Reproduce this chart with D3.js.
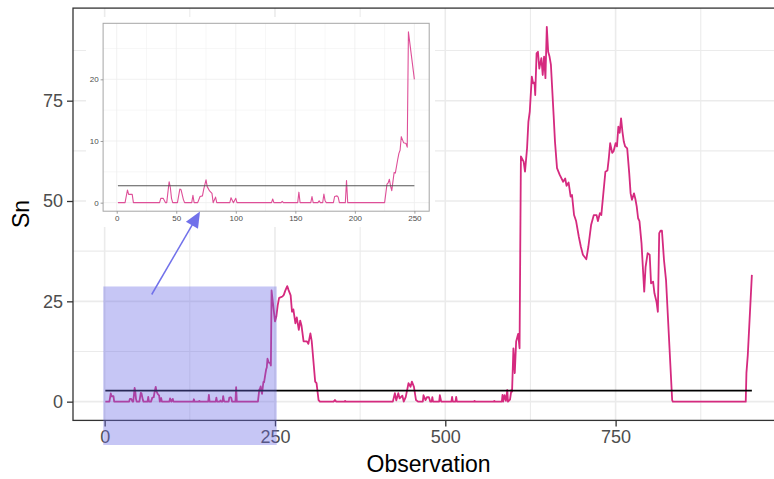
<!DOCTYPE html>
<html>
<head>
<meta charset="utf-8">
<script src="https://cdn.jsdelivr.net/npm/d3@7"></script>
<style>
  html, body { margin: 0; padding: 0; background: #ffffff; }
  svg { display: block; font-family: "Liberation Sans", Arial, Helvetica, sans-serif; }
</style>
</head>
<body>
<svg id="chart" width="774" height="479"></svg>
<script>
// ---------------- data ----------------
const obs = [
  1,7,9,10,13,14,36,37,39,41,42,44,45,46,47,51,53,54,56,57,63,64,65,68,70,72,73,75,76,78,80,81,83,84,
  95,96,98,100,101,130,131,132,138,139,140,152,153,154,163,164,165,169,170,171,173,174,175,176,
  182,183,185,186,187,192,193,194,225,227,228,229,230,231,233,234,236,237,238,239,241,243,244,245,250,
  252,254,256,258,261,263,265,268,270,273,275,277,280,282,285,287,289,292,297,299,302,304,309,311,314,316,
  336,338,340,352,353,354,423,426,428,431,433,437,439,442,446,449,451,454,457,460,467,468,471,473,476,478,
  480,481,482,491,492,494,509,510,511,515,516,517,542,543,544,571,572,573,583,584,585,587,589,591,592,595,
  597,598,600,602,604,607,609,611,615,617,620,622,624,627,629,631,632,634,636,638,641,643,645,647,649,651,
  653,655,659,661,664,668,673,676,678,681,684,686,689,692,696,699,702,707,710,714,718,722,724,727,729,732,
  735,738,740,742,745,747,750,752,754,756,758,760,762,764,767,770,772,774,777,779,781,783,785,788,792,794,
  797,800,802,805,807,810,812,814,816,818,821,824,833,834,941,942,944,950
];
const sn = [
  0,0,2.05,1.35,1.35,0,0,0.7,0.7,0,0,3.4,2.5,0.7,0,0,2.2,2.1,0.5,0,0,1.2,0,0,1.0,1.1,2.1,3.7,2.6,1.9,1.5,0,0.9,0,
  0,0.8,0,0.7,0,0,0.6,0,0,0.2,0,0,1.7,0,0,1.0,0,0,0.3,0,0,1.4,0.3,0,
  0,1.0,1.1,0.9,0,0,3.6,0,0,3.0,3.2,3.8,2.7,1.95,4.9,4.8,7.0,8.0,8.5,10.7,9.7,9.6,9.0,27.7,20.0,
  21.2,24,25.8,26,26.2,26.6,27.6,28.8,27.8,26.5,22.4,23,19.5,21,17.9,20.2,18.9,15,15,14.4,17,15,5,4.6,0.4,0,
  0,0.4,0,0,0.2,0,0,2.1,0.3,2.1,0.8,1.5,0,1.2,4.6,3.7,5.0,3.7,0.4,0,0,1.6,0.4,1.1,1.1,0,
  0,1.1,0,0,1.6,0,0,1.2,0,0,1.2,0,0,0.2,0,0,0.2,0,0,1.7,0,1.6,0.2,2.9,0,0.5,
  2.9,2.5,13.3,7.1,15,16.9,13.3,61.1,59.8,57.3,63.1,69.8,72.3,81,79.3,79.5,76.4,86.8,87.2,83,85.6,81.4,86,80.6,93.4,87.2,
  86,84,71.4,64.8,58.2,56.5,54.8,55.6,53.8,54.6,51.1,51.5,46.5,45,41.1,38.6,36.6,35.5,38.6,44,46.5,46.5,45,47,46.5,51.9,
  57.3,57.6,60.6,64.4,62,62.4,64.4,63.6,68.5,67,70.6,67.3,64.8,63.6,63.1,56.9,51.9,50.3,51.9,50.5,48.6,45.7,45,39.5,27.4,33.6,
  37,36.6,29.5,29.9,27,24.9,22.4,42,42.6,42.6,35.3,30.3,0.4,0,0,7.1,11.6,31.6
];
const threshold = 2.75;
const insetLimit = 250;

const mainXTicks = [0, 250, 500, 750];
const mainYTicks = [0, 25, 50, 75];
const insetXTicks = [0, 50, 100, 150, 200, 250];
const insetYTicks = [0, 10, 20];

const xTitle = "Observation";
const yTitle = "Sn";

// ---------------- helpers ----------------
const svg = d3.select("#chart");
const series = obs.map((o, i) => ({ o: o, v: sn[i] }));
const insetSeries = series.filter(d => d.o <= insetLimit);

function padded(ext) {
  const p = (ext[1] - ext[0]) * 0.05;
  return [ext[0] - p, ext[1] + p];
}
function minorOf(ticks, dom) {
  const step = ticks[1] - ticks[0];
  const out = [];
  for (let t = ticks[0] - step / 2; t <= dom[1]; t += step) if (t >= dom[0]) out.push(t);
  return out;
}

function drawPanel(g, cfg) {
  const x = cfg.x, y = cfg.y;
  const [x0, x1] = x.range(), [y0, y1] = y.range();
  if (cfg.bg) {
    g.append("rect").attr("x", cfg.bg[0]).attr("y", cfg.bg[1])
      .attr("width", cfg.bg[2]).attr("height", cfg.bg[3]).attr("fill", "#ffffff");
  }
  const grid = g.append("g");
  minorOf(cfg.yTicks, y.domain()).forEach(t => grid.append("line")
    .attr("x1", x0).attr("x2", x1).attr("y1", y(t)).attr("y2", y(t))
    .attr("stroke", cfg.gridCol).attr("stroke-width", cfg.minorW));
  minorOf(cfg.xTicks, x.domain()).forEach(t => grid.append("line")
    .attr("y1", y0).attr("y2", y1).attr("x1", x(t)).attr("x2", x(t))
    .attr("stroke", cfg.gridCol).attr("stroke-width", cfg.minorW));
  cfg.yTicks.forEach(t => grid.append("line")
    .attr("x1", x0).attr("x2", x1).attr("y1", y(t)).attr("y2", y(t))
    .attr("stroke", cfg.gridCol).attr("stroke-width", cfg.majorW));
  cfg.xTicks.forEach(t => grid.append("line")
    .attr("y1", y0).attr("y2", y1).attr("x1", x(t)).attr("x2", x(t))
    .attr("stroke", cfg.gridCol).attr("stroke-width", cfg.majorW));

  const line = d3.line().x(d => x(d.o)).y(d => y(d.v));
  g.append("path").datum(cfg.data).attr("d", line)
    .attr("fill", "none").attr("stroke", cfg.lineCol)
    .attr("stroke-width", cfg.lineW).attr("stroke-linejoin", "round");
  const ext = d3.extent(cfg.data, d => d.o);
  g.append("line").attr("x1", x(ext[0])).attr("x2", x(ext[1]))
    .attr("y1", y(threshold)).attr("y2", y(threshold))
    .attr("stroke", cfg.thrCol).attr("stroke-width", cfg.thrW);

  g.append("rect").attr("x", x0).attr("y", y1).attr("width", x1 - x0).attr("height", y0 - y1)
    .attr("fill", "none").attr("stroke", cfg.borderCol).attr("stroke-width", cfg.borderW);

  const ax = g.append("g").attr("transform", `translate(0,${y0})`)
    .call(d3.axisBottom(x).tickValues(cfg.xTicks).tickSize(cfg.tickLen).tickPadding(cfg.tickPad).tickFormat(d3.format("d")));
  const ay = g.append("g").attr("transform", `translate(${x0},0)`)
    .call(d3.axisLeft(y).tickValues(cfg.yTicks).tickSize(cfg.tickLen).tickPadding(cfg.tickPad).tickFormat(d3.format("d")));
  [ax, ay].forEach(a => {
    a.select(".domain").remove();
    a.selectAll(".tick line").attr("stroke", cfg.tickCol).attr("stroke-width", cfg.tickW);
    a.selectAll(".tick text").attr("fill", "#4d4d4d").attr("font-size", cfg.fontSize)
      .attr("font-family", "Liberation Sans, Arial, sans-serif");
  });
}

// ---------------- main panel ----------------
const xMain = d3.scaleLinear().domain(padded(d3.extent(obs))).range([73, 784.2]);
const yMain = d3.scaleLinear().domain(padded([0, d3.max(sn)])).range([420.4, 8.1]);

const gMain = svg.append("g");
drawPanel(gMain, {
  x: xMain, y: yMain, data: series, xTicks: mainXTicks, yTicks: mainYTicks,
  gridCol: "#ebebeb", majorW: 1.6, minorW: 1.1,
  lineCol: "#d52a7f", lineW: 1.8, thrCol: "#000000", thrW: 1.8,
  borderCol: "#333333", borderW: 1.3,
  tickLen: 6, tickPad: 4, tickCol: "#333333", tickW: 1.3, fontSize: "18px"
});

svg.append("text").attr("x", (73 + 784.2) / 2).attr("y", 472)
  .attr("text-anchor", "middle").attr("font-size", "23px").attr("fill", "#000")
  .text(xTitle);
svg.append("text").attr("transform", "translate(29,214) rotate(-90)")
  .attr("text-anchor", "middle").attr("font-size", "23px").attr("fill", "#000")
  .text(yTitle);

// ---------------- inset panel ----------------
const xIn = d3.scaleLinear().domain(padded(d3.extent(insetSeries, d => d.o))).range([103.1, 429.2]);
const yIn = d3.scaleLinear().domain(padded([0, d3.max(insetSeries, d => d.v)])).range([211.2, 23.3]);

const gIn = svg.append("g");
drawPanel(gIn, {
  x: xIn, y: yIn, data: insetSeries, xTicks: insetXTicks, yTicks: insetYTicks,
  bg: [86, 17, 349, 210],
  gridCol: "#eeeeee", majorW: 0.8, minorW: 0.5,
  lineCol: "#de4f98", lineW: 1.1, thrCol: "#555555", thrW: 1.1,
  borderCol: "#a6a6a6", borderW: 1,
  tickLen: 2.5, tickPad: 2, tickCol: "#888888", tickW: 0.8, fontSize: "8px"
});

// ---------------- highlight & arrow ----------------
svg.append("rect")
  .attr("x", xMain(-2)).attr("y", yMain(28.7))
  .attr("width", xMain(252.5) - xMain(-2)).attr("height", yMain(-10.8) - yMain(28.7))
  .attr("fill", "#6a6ae6").attr("fill-opacity", 0.38);

const a0 = [151.7, 294.5], a1 = [200, 211.5];
const dx = a1[0] - a0[0], dy = a1[1] - a0[1], L = Math.hypot(dx, dy);
const ux = dx / L, uy = dy / L, hl = 16, hw = 7;
const bx = a1[0] - ux * hl, by = a1[1] - uy * hl;
svg.append("line").attr("x1", a0[0]).attr("y1", a0[1]).attr("x2", bx + ux * 2).attr("y2", by + uy * 2)
  .attr("stroke", "#7171ea").attr("stroke-width", 1.5);
svg.append("polygon")
  .attr("points", [[a1[0], a1[1]], [bx - uy * hw, by + ux * hw], [bx + uy * hw, by - ux * hw]].map(p => p.join(",")).join(" "))
  .attr("fill", "#7171ea");
</script>
</body>
</html>
